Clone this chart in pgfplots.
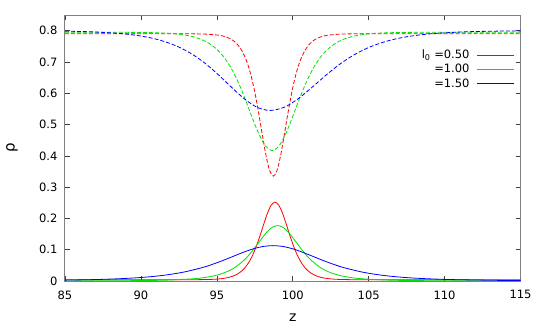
\documentclass[border=0pt]{standalone}
\usepackage{fontspec}
\setmainfont{DejaVu Sans}
\usepackage{pgfplots}
\pgfplotsset{compat=1.18}
\definecolor{cR}{RGB}{255,0,0}
\definecolor{cG}{RGB}{0,225,0}
\definecolor{cB}{RGB}{0,0,255}
\begin{document}
\begin{tikzpicture}
\useasboundingbox (-65pt,-46pt) rectangle (480pt,281pt);
\begin{axis}[
  at={(0pt,0pt)}, anchor=south west, scale only axis,
  width=455.5pt, height=266pt,
  xmin=85, xmax=115, ymin=0, ymax=0.85,
  xtick={85,90,95,100,105,110,115},
  ytick={0,0.1,0.2,0.3,0.4,0.5,0.6,0.7,0.8},
  /pgf/number format/assume math mode=true,
  yticklabel style={/pgf/number format/fixed, /pgf/number format/precision=1, font=\fontsize{11.5}{13}\selectfont, xshift=-4pt},
  xticklabel style={font=\fontsize{11.5}{13}\selectfont, yshift=-6pt},
  tick align=inside, major tick length=5pt,
  tick style={black!75, line width=0.6pt},
  axis line style={black!50, line width=1pt},
  xlabel={z}, ylabel={ρ},
  every axis x label/.style={at={(axis description cs:0.5,-0.139)}, anchor=center, font=\fontsize{14}{16}\selectfont},
  every axis y label/.style={at={(axis description cs:-0.1165,0.5)}, anchor=center, rotate=90, font=\fontsize{15}{17}\selectfont},
  legend cell align=right, legend plot pos=right,
  legend image code/.code={\draw[#1] (0pt,0pt) -- (37pt,0pt);},
  legend style={draw=none, fill=none, font=\fontsize{11.5}{13.8}\selectfont,
    at={(1,1)}, anchor=north east, xshift=-3pt, yshift=-31pt, row sep=0pt,
    /tikz/every odd column/.append style={column sep=5pt}},
]
% dashed curves
\addplot[cR, line width=0.8pt, dash pattern=on 4pt off 2pt, smooth, forget plot] coordinates {
(85,0.7900)(92.72,0.7899)(93.92,0.7894)(94.52,0.7883)(95.12,0.7855)(95.36,0.7833)(95.60,0.7801)(95.84,0.7753)(96.08,0.7682)(96.32,0.7579)(96.56,0.7429)(96.80,0.7215)(97.04,0.6917)(97.28,0.6512)(97.52,0.5989)(97.76,0.5356)(98.00,0.4662)(98.24,0.4007)(98.48,0.3527)(98.72,0.3350)(98.96,0.3527)(99.20,0.4007)(99.44,0.4662)(99.68,0.5356)(99.92,0.5989)(100.16,0.6512)(100.40,0.6917)(100.64,0.7215)(100.88,0.7429)(101.12,0.7579)(101.36,0.7682)(101.60,0.7753)(101.84,0.7801)(102.08,0.7833)(102.32,0.7855)(102.92,0.7883)(103.52,0.7894)(104.72,0.7899)(115,0.7900)
};
\addplot[cG, line width=0.8pt, dash pattern=on 4pt off 2pt, smooth, forget plot] coordinates {
(85,0.7950)(88.53,0.7948)(90.78,0.7936)(91.90,0.7913)(92.35,0.7895)(92.80,0.7868)(93.25,0.7828)(93.70,0.7769)(94.15,0.7683)(94.60,0.7558)(95.05,0.7381)(95.50,0.7133)(95.95,0.6797)(96.40,0.6362)(96.85,0.5837)(97.30,0.5260)(97.75,0.4716)(98.20,0.4317)(98.65,0.4170)(99.10,0.4317)(99.55,0.4716)(100.00,0.5260)(100.45,0.5837)(100.90,0.6362)(101.35,0.6797)(101.80,0.7133)(102.25,0.7381)(102.70,0.7558)(103.15,0.7683)(103.60,0.7769)(104.05,0.7828)(104.50,0.7868)(104.95,0.7895)(105.40,0.7913)(106.53,0.7936)(108.78,0.7948)(115,0.7950)
};
\addplot[cB, line width=0.8pt, dash pattern=on 4pt off 2pt, smooth, forget plot] coordinates {
(85,0.7983)(86.74,0.7963)(88.42,0.7917)(89.26,0.7878)(90.10,0.7820)(90.94,0.7736)(91.78,0.7616)(92.62,0.7449)(93.46,0.7222)(94.30,0.6929)(95.14,0.6574)(95.98,0.6185)(96.82,0.5818)(97.66,0.5549)(98.50,0.5450)(99.42,0.5549)(100.34,0.5818)(101.26,0.6185)(102.18,0.6574)(103.10,0.6929)(104.02,0.7222)(104.94,0.7449)(105.86,0.7616)(106.78,0.7736)(107.70,0.7820)(108.62,0.7878)(109.54,0.7917)(111.38,0.7963)(113.22,0.7983)(115,0.7993)
};
% solid curves
\addplot[cR, line width=0.8pt, smooth] coordinates {
(85,0.0040)(92.58,0.0040)(94.455,0.0049)(95.08,0.0064)(95.33,0.0076)(95.58,0.0094)(95.83,0.0120)(96.08,0.0159)(96.33,0.0215)(96.58,0.0297)(96.83,0.0413)(97.08,0.0576)(97.33,0.0796)(97.58,0.1082)(97.83,0.1427)(98.08,0.1805)(98.33,0.2162)(98.58,0.2423)(98.83,0.2520)(99.08,0.2423)(99.33,0.2162)(99.58,0.1805)(99.83,0.1427)(100.08,0.1082)(100.33,0.0796)(100.58,0.0576)(100.83,0.0413)(101.08,0.0297)(101.33,0.0215)(101.58,0.0159)(101.83,0.0120)(102.08,0.0094)(102.33,0.0076)(102.58,0.0064)(103.205,0.0049)(105.08,0.0040)(115,0.0040)
};
\addlegendentry{l\textsubscript{0} =0.50}
\addplot[cG, line width=0.8pt, smooth] coordinates {
(85,0.0003)(87.88,0.0006)(90.66,0.0018)(92.05,0.0034)(93.44,0.0071)(93.996,0.0098)(94.552,0.0140)(95.108,0.0202)(95.664,0.0297)(96.22,0.0443)(96.776,0.0658)(97.054,0.0797)(97.332,0.0957)(97.61,0.1133)(97.888,0.1315)(98.166,0.1490)(98.444,0.1637)(98.722,0.1735)(99.0,0.1770)(99.278,0.1735)(99.556,0.1637)(99.834,0.1490)(100.112,0.1315)(100.39,0.1133)(100.668,0.0957)(100.946,0.0797)(101.224,0.0658)(101.78,0.0443)(102.336,0.0297)(102.892,0.0202)(103.448,0.0140)(104.004,0.0098)(104.56,0.0071)(105.95,0.0034)(107.34,0.0018)(110.12,0.0006)(112.9,0.0003)(115,0.0002)
};
\addlegendentry{=1.00}
\addplot[cB, line width=0.8pt, smooth] coordinates {
(85,0.0028)(86.9,0.0045)(88.08,0.0063)(89.26,0.0089)(90.44,0.0129)(91.62,0.0190)(92.8,0.0283)(93.98,0.0420)(94.57,0.0509)(95.16,0.0611)(95.75,0.0723)(96.34,0.0840)(96.93,0.0951)(97.52,0.1045)(98.11,0.1108)(98.7,0.1130)(99.29,0.1108)(99.88,0.1045)(100.47,0.0951)(101.06,0.0840)(101.65,0.0723)(102.24,0.0611)(102.83,0.0509)(103.42,0.0420)(104.6,0.0283)(105.78,0.0190)(106.96,0.0129)(108.14,0.0089)(109.32,0.0063)(110.5,0.0045)(113.45,0.0021)(115,0.0015)
};
\addlegendentry{=1.50}
\end{axis}
\end{tikzpicture}
\end{document}
